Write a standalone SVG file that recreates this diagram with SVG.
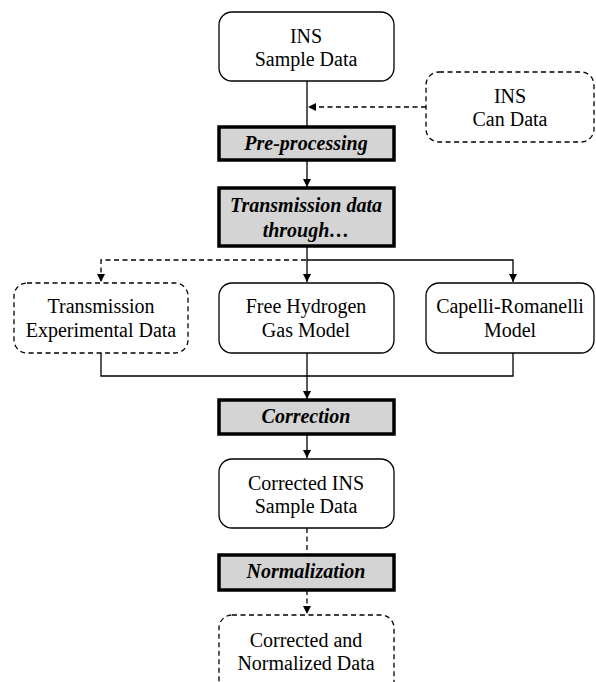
<svg xmlns="http://www.w3.org/2000/svg" width="596" height="682" viewBox="0 0 596 682">
<style>
.box{fill:#fff;stroke:#000;stroke-width:1.3}
.dbox{fill:#fff;stroke:#000;stroke-width:1.3;stroke-dasharray:5,3.5}
.proc{fill:#d4d4d4;stroke:#000;stroke-width:3.5}
.t{font-family:"Liberation Serif",serif;font-size:20px;text-anchor:middle;fill:#000}
.b{font-weight:bold;font-style:italic}
.ln{fill:none;stroke:#000;stroke-width:1.3}
.dl{fill:none;stroke:#000;stroke-width:1.3;stroke-dasharray:5,3.5}
</style>
<defs>
<marker id="ah" viewBox="0 0 10 10" refX="10" refY="5" markerWidth="8" markerHeight="8" markerUnits="userSpaceOnUse" orient="auto">
<path d="M0,0 L10,5 L0,10 z" fill="#000"/>
</marker>
</defs>
<g id="connectors">
<line class="ln" x1="307" y1="81" x2="307" y2="127"/>
<line class="dl" x1="426" y1="107" x2="308" y2="107" marker-end="url(#ah)"/>
<line class="ln" x1="307" y1="160" x2="307" y2="187" marker-end="url(#ah)"/>
<line class="ln" x1="307" y1="246" x2="307" y2="282" marker-end="url(#ah)"/>
<polyline class="ln" points="307,260 513,260 513,282" marker-end="url(#ah)"/>
<polyline class="dl" points="306,260 101,260 101,282" marker-end="url(#ah)"/>
<polyline class="ln" points="101,353 101,376 513,376 513,353"/>
<line class="ln" x1="307" y1="353" x2="307" y2="399" marker-end="url(#ah)"/>
<line class="ln" x1="307" y1="434" x2="307" y2="458" marker-end="url(#ah)"/>
<line class="dl" x1="307" y1="528" x2="307" y2="555"/>
<line class="dl" x1="307" y1="590" x2="307" y2="614" marker-end="url(#ah)"/>
</g>
<g id="ins-sample">
<rect class="box" x="219" y="12" width="175" height="69" rx="13"/>
<text class="t" x="306" y="43">INS</text>
<text class="t" x="306" y="66">Sample Data</text>
</g>
<g id="ins-can">
<rect class="dbox" x="426" y="72" width="168" height="70" rx="13"/>
<text class="t" x="510" y="103">INS</text>
<text class="t" x="510" y="126">Can Data</text>
</g>
<g id="preprocessing">
<rect class="proc" x="219" y="127" width="175" height="33"/>
<text class="t b" x="306" y="150">Pre-processing</text>
</g>
<g id="transmission">
<rect class="proc" x="219" y="188" width="175" height="58"/>
<text class="t b" x="306" y="212">Transmission data</text>
<text class="t b" x="306" y="237">through…</text>
</g>
<g id="trans-exp">
<rect class="dbox" x="14" y="283" width="174" height="70" rx="13"/>
<text class="t" x="101" y="313">Transmission</text>
<text class="t" x="101" y="337">Experimental Data</text>
</g>
<g id="free-hydrogen">
<rect class="box" x="219" y="283" width="175" height="70" rx="13"/>
<text class="t" x="306" y="313">Free Hydrogen</text>
<text class="t" x="306" y="337">Gas Model</text>
</g>
<g id="capelli">
<rect class="box" x="426" y="283" width="168" height="70" rx="13"/>
<text class="t" x="510" y="313">Capelli-Romanelli</text>
<text class="t" x="510" y="337">Model</text>
</g>
<g id="correction">
<rect class="proc" x="219" y="400" width="175" height="34"/>
<text class="t b" x="306" y="423">Correction</text>
</g>
<g id="corrected">
<rect class="box" x="219" y="459" width="175" height="69" rx="13"/>
<text class="t" x="306" y="490">Corrected INS</text>
<text class="t" x="306" y="513">Sample Data</text>
</g>
<g id="normalization">
<rect class="proc" x="219" y="555" width="175" height="35"/>
<text class="t b" x="306" y="578">Normalization</text>
</g>
<g id="final">
<rect class="dbox" x="219" y="615" width="175" height="90" rx="13"/>
<text class="t" x="306" y="647">Corrected and</text>
<text class="t" x="306" y="670">Normalized Data</text>
</g>
</svg>
